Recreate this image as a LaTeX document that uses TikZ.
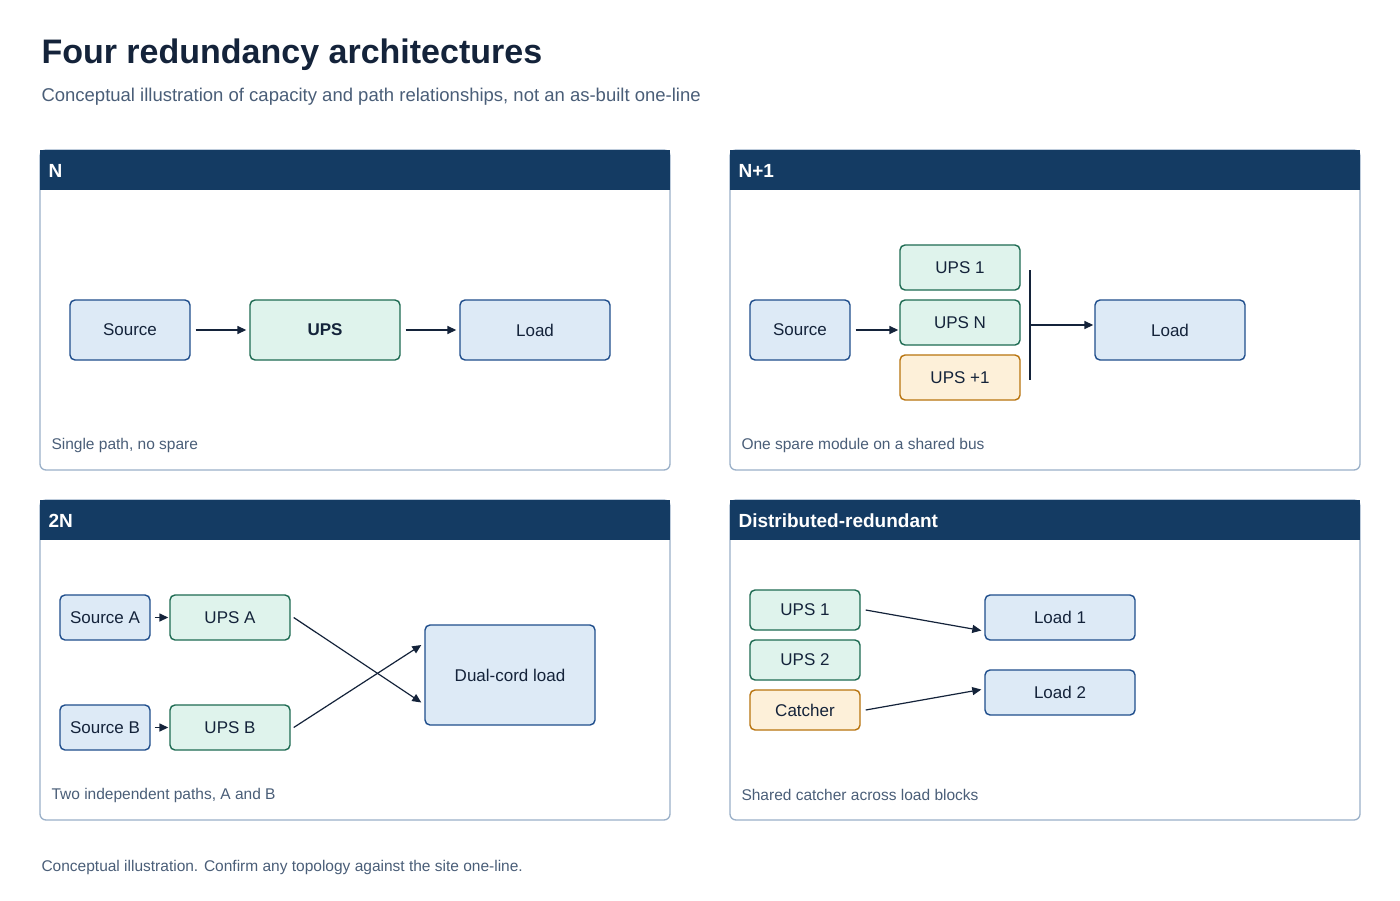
\documentclass[tikz,border=0pt]{standalone}
\usepackage{fontspec}
\setmainfont{Liberation Sans}
\usetikzlibrary{arrows.meta}
\definecolor{navy}{HTML}{143B63}
\definecolor{ink}{HTML}{14233A}
\definecolor{cap}{HTML}{4A5E78}
\definecolor{pbord}{HTML}{9AB0C8}
\definecolor{bfill}{HTML}{DDEAF6}\definecolor{bdraw}{HTML}{1F4E8C}
\definecolor{gfill}{HTML}{DFF3EC}\definecolor{gdraw}{HTML}{1E6B52}
\definecolor{ofill}{HTML}{FDF0D9}\definecolor{odraw}{HTML}{B8740E}
\tikzset{
 bx/.style={rounded corners=5pt,line width=1.4pt,text=ink,font=\fontsize{17}{20}\selectfont,inner sep=0pt},
 bl/.style={bx,fill=bfill,draw=bdraw},
 gr/.style={bx,fill=gfill,draw=gdraw},
 og/.style={bx,fill=ofill,draw=odraw},
 con/.style={line width=1.5pt,draw=ink,-{Triangle[length=9pt,width=8pt]}},
 thin/.style={line width=1.2pt,draw=ink,-{Triangle[length=9pt,width=8pt]}},
 panel/.style={draw=pbord,line width=1.3pt,rounded corners=6pt,fill=white},
 hdr/.style={fill=navy},
 htxt/.style={text=white,font=\fontsize{19}{22}\selectfont\bfseries,anchor=west},
 ctxt/.style={text=cap,font=\fontsize{15.5}{18}\selectfont,anchor=west}
}
\begin{document}
\begin{tikzpicture}[x=1pt,y=-1pt]
\useasboundingbox[fill=white] (0,0) rectangle (1400,900);
\node[anchor=west,text=ink,font=\fontsize{34}{40}\selectfont\bfseries] (title) at (38,55) {Four redundancy architectures};
\node[anchor=west,text=cap,font=\fontsize{18.5}{22}\selectfont] (sub) at (38,97) {Conceptual illustration of capacity and path relationships, not an as-built one-line};
\node[anchor=west,text=cap,font=\fontsize{15.5}{18}\selectfont] (foot) at (38,867) {Conceptual illustration. Confirm any topology against the site one-line.};
% panels
\foreach \x/\y/\t [count=\i] in {40/150/N,730/150/N+1,40/500/2N,730/500/Distributed-redundant}{
 \draw[panel] (\x,\y) rectangle ++(630,320);
 \fill[hdr] (\x,\y) rectangle ++(630,40);
 \node[htxt] (h\i) at (\x+5,\y+21) {\t};
}
\node[ctxt] (c1) at (48,445) {Single path, no spare};
\node[ctxt] (c2) at (738,445) {One spare module on a shared bus};
\node[ctxt] (c3) at (48,795) {Two independent paths, A and B};
\node[ctxt] (c4) at (738,795) {Shared catcher across load blocks};
% N
\node[bl,minimum width=120,minimum height=60] (ns) at (130,330) {Source};
\node[gr,minimum width=150,minimum height=60,font=\fontsize{17}{20}\selectfont\bfseries] (nu) at (325,330) {UPS};
\node[bl,minimum width=150,minimum height=60] (nl) at (535,330) {Load};
\draw[con,shorten <=5pt,shorten >=3pt] (ns) -- (nu);
\draw[con,shorten <=5pt,shorten >=3pt] (nu) -- (nl);
% N+1
\node[bl,minimum width=100,minimum height=60] (ps) at (800,330) {Source};
\node[gr,minimum width=120,minimum height=45] (p1) at (960,267.5) {UPS 1};
\node[gr,minimum width=120,minimum height=45] (pn) at (960,322.5) {UPS N};
\node[og,minimum width=120,minimum height=45] (pp) at (960,377.5) {UPS +1};
\node[bl,minimum width=150,minimum height=60] (pl) at (1170,330) {Load};
\coordinate (bt) at (1030,270); \coordinate (bb) at (1030,380); \coordinate (bm) at (1030,325);
\draw[line width=2.5pt,draw=ink] (bt) -- (bb);
\draw[con,shorten <=5pt,shorten >=1pt] (ps.east) -- (ps.east -| pn.west);
\draw[con,shorten >=1pt] (bm) -- (bm -| pl.west);
% 2N
\node[bl,minimum width=90,minimum height=45] (sa) at (105,617.5) {Source A};
\node[gr,minimum width=120,minimum height=45] (ua) at (230,617.5) {UPS A};
\node[bl,minimum width=90,minimum height=45] (sb) at (105,727.5) {Source B};
\node[gr,minimum width=120,minimum height=45] (ub) at (230,727.5) {UPS B};
\node[bl,minimum width=170,minimum height=100] (dl) at (510,675) {Dual-cord load};
\draw[con,shorten <=4pt,shorten >=1pt] (sa) -- (ua);
\draw[con,shorten <=4pt,shorten >=1pt] (sb) -- (ub);
\draw[thin] ([xshift=3pt]ua.east) -- ([xshift=-3pt,yshift=-27.5pt]dl.west);
\draw[thin] ([xshift=3pt]ub.east) -- ([xshift=-3pt,yshift=30pt]dl.west);
% DR
\node[gr,minimum width=110,minimum height=40] (d1) at (805,610) {UPS 1};
\node[gr,minimum width=110,minimum height=40] (d2) at (805,660) {UPS 2};
\node[og,minimum width=110,minimum height=40] (dc) at (805,710) {Catcher};
\node[bl,minimum width=150,minimum height=45] (l1) at (1060,617.5) {Load 1};
\node[bl,minimum width=150,minimum height=45] (l2) at (1060,692.5) {Load 2};
\draw[thin] ([xshift=5pt]d1.east) -- ([xshift=-3pt,yshift=-13pt]l1.west);
\draw[thin] ([xshift=5pt]dc.east) -- ([xshift=-3pt,yshift=3pt]l2.west);
\end{tikzpicture}
\end{document}
